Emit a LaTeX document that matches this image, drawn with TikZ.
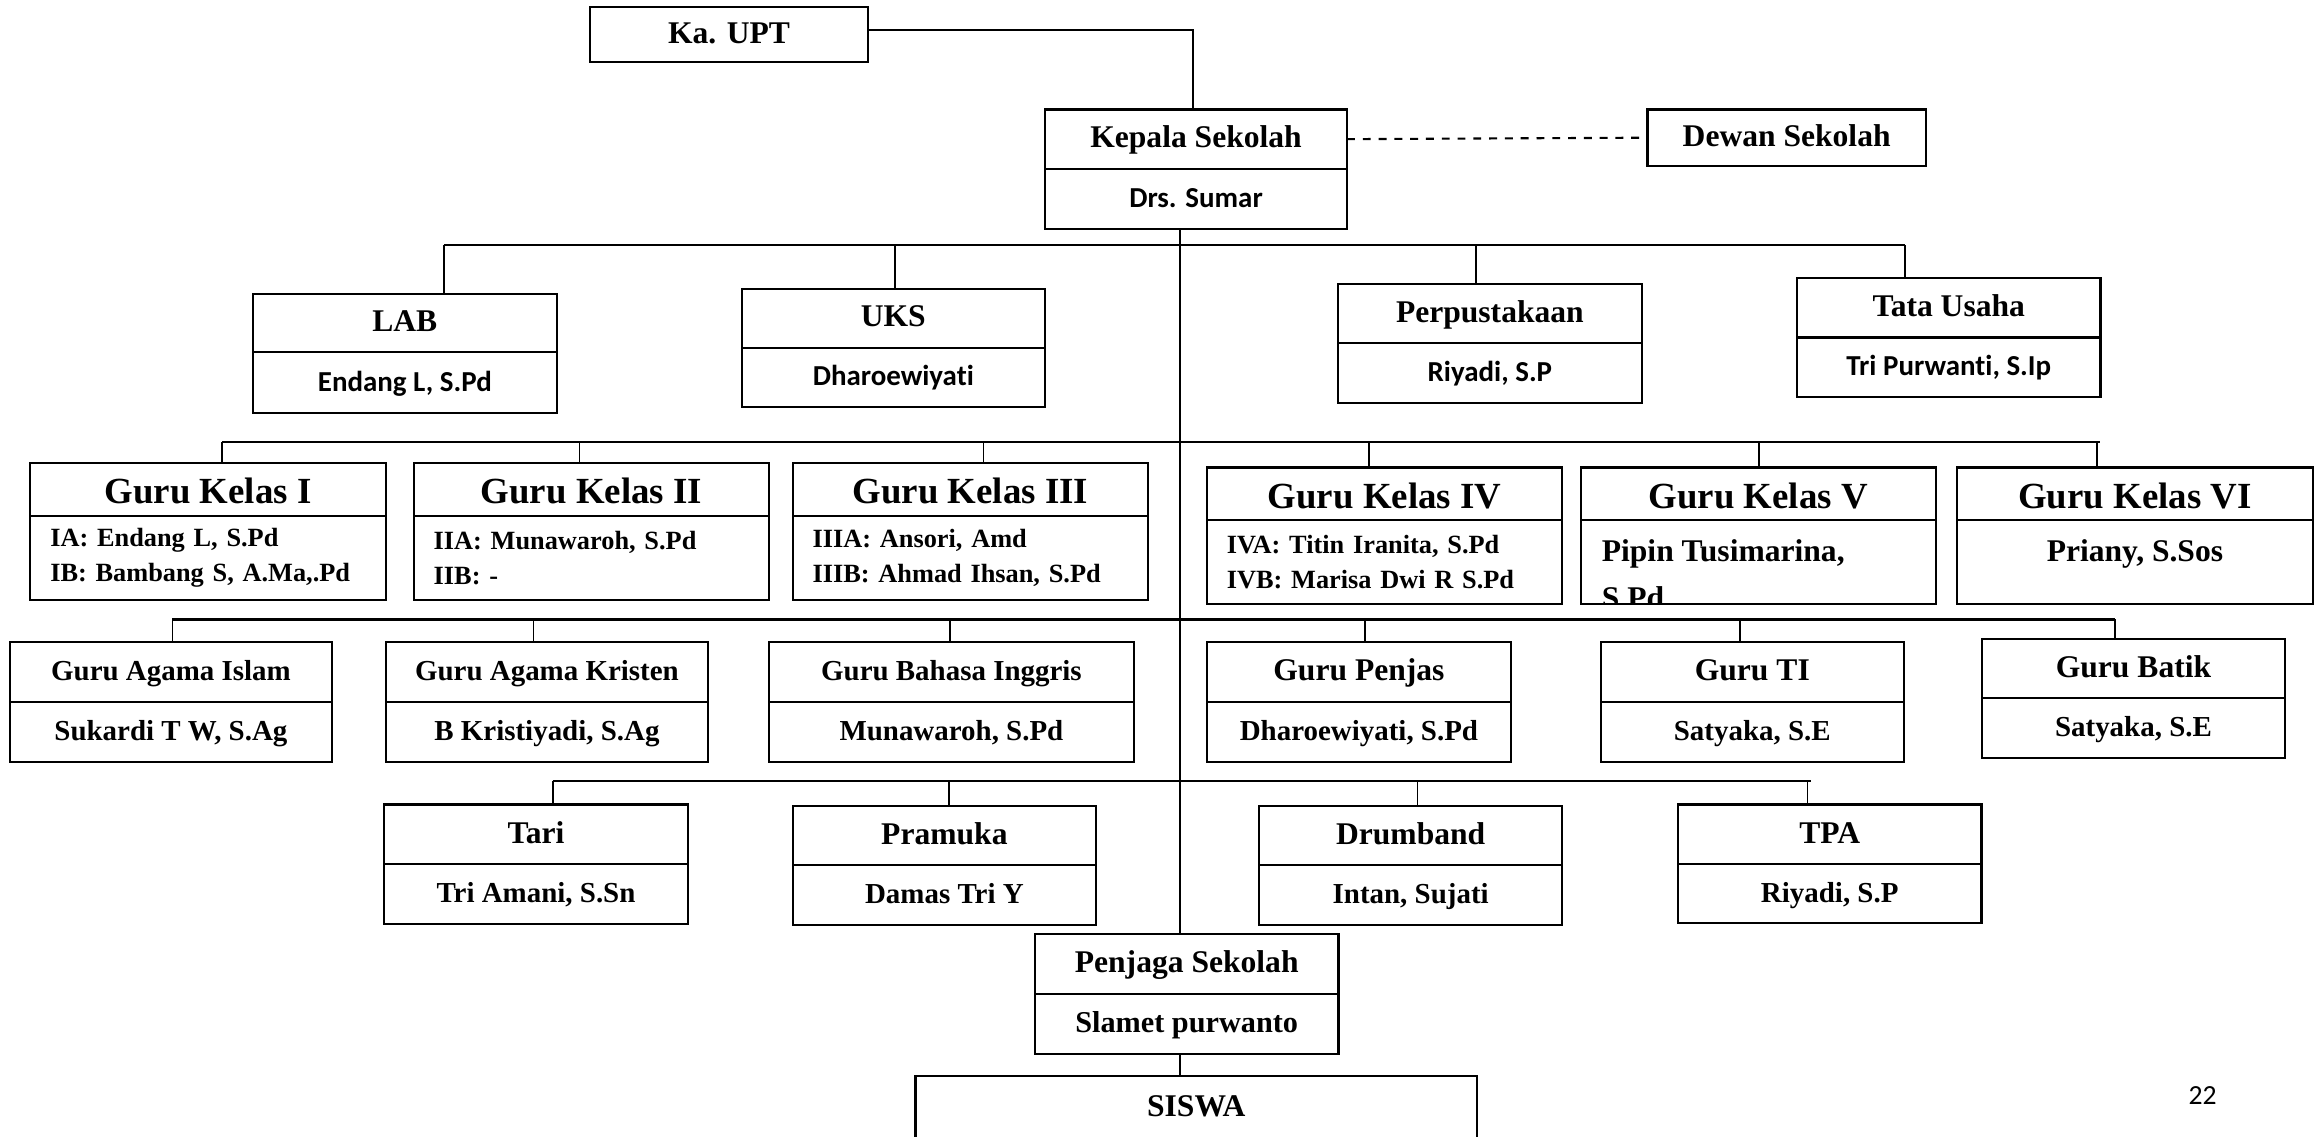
\documentclass[tikz,border=0pt]{standalone}
\usepackage{fontspec}
\setmainfont{Liberation Serif}
\newfontfamily\calibri[Ligatures=NoCommon]{Carlito}
\usetikzlibrary{calc}

\begin{document}
\begin{tikzpicture}[x=0.5625pt, y=-0.5625pt,
  cell/.style 2 args={draw, line width=0.8pt, inner sep=0pt, outer sep=0pt,
    anchor=north west, minimum width=#1*0.5625pt, minimum height=#2*0.5625pt},
  tb/.style={font=\fontsize{#1}{#1}\selectfont\bfseries, text height=0.66em, text depth=0pt},
  cb/.style={font=\calibri\fontsize{#1}{#1}\selectfont\bfseries, text height=0.64em, text depth=0pt},
  kelas/.style={tb=14, text height=1.1em},
  list/.style={align=left, text width=119.8pt, inner xsep=7.6pt,
    font=\fontsize{10}{13.3}\selectfont\bfseries},
  bus/.style={line width=1pt},
  drop/.style={line width=0.6pt}]
  \useasboundingbox (0,0) rectangle (1568,768);
  \clip (0,0) rectangle (1568,768);

  % top
  \node[cell={188}{37.5}, tb=12] (kaupt) at (398.5,4.5) {Ka. UPT};
  \node[cell={204}{40}, tb=12] (kepala) at (706,74) {Kepala Sekolah};
  \node[cell={204}{40.5}, cb=11] (kepalanm) at (kepala.south west) {Drs. Sumar};
  \node[cell={188}{38}, tb=12] (dewan) at (1113,74) {Dewan Sekolah};

  % staf
  \node[cell={205}{39.4}, tb=12] (lab) at (171,198.6) {LAB};
  \node[cell={205}{41}, cb=11] (labnm) at (lab.south west) {Endang L, S.Pd};
  \node[cell={205}{40}, tb=12] (uks) at (501,195) {UKS};
  \node[cell={205}{40}, cb=11] (uksnm) at (uks.south west) {Dharoewiyati};
  \node[cell={205}{39.5}, tb=12] (pus) at (904,192) {Perpustakaan};
  \node[cell={205}{40.5}, cb=11] (pusnm) at (pus.south west) {Riyadi, S.P};
  \node[cell={205}{40}, tb=12] (tu) at (1214,188) {Tata Usaha};
  \node[cell={205}{40}, cb=11] (tunm) at (tu.south west) {Tri Purwanti, S.Ip};

  % guru kelas
  \node[cell={240}{35.8}, kelas] (k1) at (20.5,312.6) {Guru Kelas I};
  \node[cell={240}{57}, list] (k1nm) at (k1.south west) {IA: Endang L, S.Pd\\IB: Bambang S, A.Ma,.Pd};
  \node[cell={240}{35.8}, kelas] (k2) at (279.5,312.6) {Guru Kelas II};
  \node[cell={240}{57}, list] (k2nm) at (k2.south west) {IIA: Munawaroh, S.Pd\\IIB: -};
  \node[cell={240}{35.8}, kelas] (k3) at (535.5,312.6) {Guru Kelas III};
  \node[cell={240}{57}, list] (k3nm) at (k3.south west) {IIIA: Ansori, Amd\\IIIB: Ahmad Ihsan, S.Pd};
  \node[cell={240}{35.2}, kelas] (k4) at (815.3,315.8) {Guru Kelas IV};
  \node[cell={240}{57}, list] (k4nm) at (k4.south west) {IVA: Titin Iranita, S.Pd\\IVB: Marisa Dwi R S.Pd};
  \node[cell={240}{35.2}, kelas] (k5) at (1067.8,315.8) {Guru Kelas V};
  \node[cell={240}{57}] (k5nm) at (k5.south west) {};
  \begin{scope}
    \clip (k5nm.north west) rectangle (k5nm.south east);
    \node[anchor=base west, align=left, inner sep=0pt,
      font=\fontsize{12}{18}\selectfont\bfseries] (k5txt)
      at ($(k5nm.north west)+(14,60.4)$) {Pipin Tusimarina,\\S.Pd};
  \end{scope}
  \node[cell={240}{35.2}, kelas] (k6) at (1322.3,315.8) {Guru Kelas VI};
  \node[cell={240}{57}, tb=12, text depth=0.68em] (k6nm) at (k6.south west) {Priany, S.Sos};

  % guru mapel
  \node[cell={217}{40.3}, tb=11] (agis) at (7,434) {Guru Agama Islam};
  \node[cell={217}{40.3}, tb=11] (agisnm) at (agis.south west) {Sukardi T W, S.Ag};
  \node[cell={218}{40.3}, tb=11] (agkr) at (260.5,434) {Guru Agama Kristen};
  \node[cell={218}{40.3}, tb=11] (agkrnm) at (agkr.south west) {B Kristiyadi, S.Ag};
  \node[cell={246.5}{40.3}, tb=11] (bing) at (519.5,434) {Guru Bahasa Inggris};
  \node[cell={246.5}{40.3}, tb=11] (bingnm) at (bing.south west) {Munawaroh, S.Pd};
  \node[cell={205.5}{40.3}, tb=12] (penjas) at (815.3,434) {Guru Penjas};
  \node[cell={205.5}{40.3}, tb=11] (penjasnm) at (penjas.south west) {Dharoewiyati, S.Pd};
  \node[cell={205}{40.3}, tb=12] (ti) at (1081.3,434) {Guru TI};
  \node[cell={205}{40.3}, tb=11] (tinm) at (ti.south west) {Satyaka, S.E};
  \node[cell={205}{39.8}, tb=12] (batik) at (1338.8,431.8) {Guru Batik};
  \node[cell={205}{40.6}, tb=11] (batiknm) at (batik.south west) {Satyaka, S.E};

  % ekstra
  \node[cell={205.6}{40.3}, tb=12] (tari) at (259.3,543.5) {Tari};
  \node[cell={205.6}{40.5}, tb=11] (tarinm) at (tari.south west) {Tri Amani, S.Sn};
  \node[cell={205}{40.1}, tb=12] (pramuka) at (535.5,544.4) {Pramuka};
  \node[cell={205}{40.3}, tb=11] (pramukanm) at (pramuka.south west) {Damas Tri Y};
  \node[cell={205}{40.1}, tb=12] (drum) at (850.5,544.4) {Drumband};
  \node[cell={205}{40.3}, tb=11] (drumnm) at (drum.south west) {Intan, Sujati};
  \node[cell={205}{40.3}, tb=12] (tpa) at (1133.6,543.5) {TPA};
  \node[cell={205}{40}, tb=11] (tpanm) at (tpa.south west) {Riyadi, S.P};

  \node[cell={205}{40.6}, tb=12] (penjaga) at (699.2,631) {Penjaga Sekolah};
  \node[cell={205}{40.4}, tb=11.5] (penjaganm) at (penjaga.south west) {Slamet purwanto};
  \node[cell={379.3}{44}, tb=12] (siswa) at (618.5,726.6) {SISWA};

  \node[font=\calibri\fontsize{10.5}{12}\selectfont] (hal) at (1488,740) {22};

  % garis
  \coordinate (trunk) at (797,0);
  \coordinate (bus1) at (797,165.5);
  \coordinate (bus2) at (797,298.6);
  \coordinate (bus3) at (797,418.5);
  \coordinate (bus4) at (797,527.7);

  \draw[line width=0.8pt] ($(kaupt.east)+(0,-3)$) -| ($(kepala.north)+(-2,0)$);
  \draw[dashed, line width=0.8pt] (kepala.east) -- (dewan.west);
  \draw[drop] (kepalanm.south -| trunk) -- (penjaga.north -| trunk);
  \draw[drop] (penjaganm.south -| trunk) -- (siswa.north -| trunk);

  \draw[bus] ($(lab.north |- bus1)+(26.5,0)$) -- ($(tu.north |- bus1)+(-29.5,0)$);
  \foreach \bx/\dx in {lab/26.5, uks/1, pus/-9.5, tu/-29.5}
    \draw[drop] ($(\bx.north)+(\dx,0)$) -- ($(\bx.north |- bus1)+(\dx,0)$);

  \draw[bus] ($(k1.north |- bus2)+(9.5,0)$) -- ($(k6.north |- bus2)+(-23.5,0)$);
  \foreach \bx/\dx in {k1/9.5, k2/-8, k3/9, k4/-10.5, k5/0.5, k6/-25.5}
    \draw[drop] ($(\bx.north)+(\dx,0)$) -- ($(\bx.north |- bus2)+(\dx,0)$);

  \draw[bus] ($(agis.north |- bus3)+(1,0)$) -- ($(batik.north |- bus3)+(-12.5,0)$);
  \foreach \bx/\dx in {agis/1, agkr/-9, bing/-1, penjas/4, ti/-8.5, batik/-12.5}
    \draw[drop] ($(\bx.north)+(\dx,0)$) -- ($(\bx.north |- bus3)+(\dx,0)$);

  \draw[bus] ($(tari.north |- bus4)+(11.3,0)$) -- ($(tpa.north |- bus4)+(-12.5,0)$);
  \foreach \bx/\dx in {tari/11.3, pramuka/3, drum/4.5, tpa/-15}
    \draw[drop] ($(\bx.north)+(\dx,0)$) -- ($(\bx.north |- bus4)+(\dx,0)$);
\end{tikzpicture}
\end{document}
